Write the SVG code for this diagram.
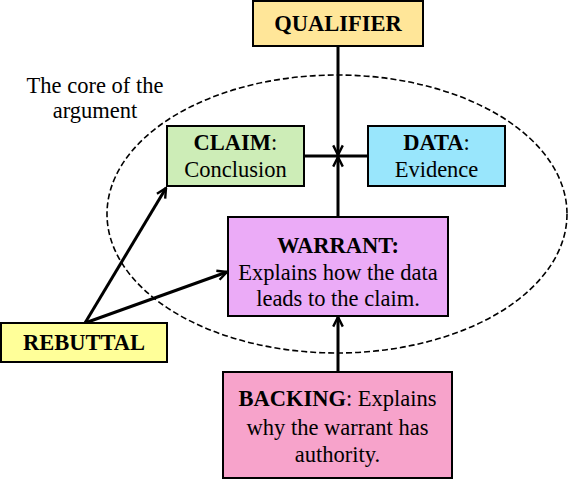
<svg xmlns="http://www.w3.org/2000/svg" width="570" height="480" viewBox="0 0 570 480">
<defs>
<style>
.box{stroke:#000;stroke-width:2}
.t{font-family:"Liberation Serif","Times New Roman",serif;font-size:22.5px;fill:#000;text-anchor:middle}
.b{font-weight:bold}
.c{fill:none;stroke:#000;stroke-width:3}
</style>
<marker id="ah" viewBox="0 0 10 10" refX="9" refY="5" markerWidth="4" markerHeight="4" orient="auto" markerUnits="strokeWidth">
<path d="M1,1 L9,5 L1,9" fill="none" stroke="#000" stroke-width="2"/>
</marker>
</defs>
<rect width="570" height="480" fill="#fff"/>
<ellipse cx="337" cy="214" rx="230" ry="139" fill="none" stroke="#000" stroke-width="1.6" stroke-dasharray="6,3"/>
<text class="t" x="95" y="93">The core of the</text>
<text class="t" x="95" y="118">argument</text>
<g id="connectors">
<line class="c" x1="304" y1="156" x2="368" y2="156" stroke-width="2.5"/>
<line class="c" x1="338" y1="46" x2="338" y2="155" marker-end="url(#ah)"/>
<line class="c" x1="338" y1="217" x2="338" y2="157" marker-end="url(#ah)"/>
<line class="c" x1="338" y1="372" x2="338" y2="317" marker-end="url(#ah)"/>
<line class="c" x1="85" y1="323" x2="166" y2="188" marker-end="url(#ah)"/>
<line class="c" x1="85" y1="323" x2="227" y2="272" marker-end="url(#ah)"/>
</g>
<g id="qualifier">
<rect class="box" x="253" y="1" width="170" height="45" fill="#FFE699"/>
<text class="t b" x="338" y="31">QUALIFIER</text>
</g>
<g id="claim">
<rect class="box" x="167" y="126" width="137" height="60" fill="#CDEDB7"/>
<text class="t" x="235.5" y="150"><tspan class="b">CLAIM</tspan>:</text>
<text class="t" x="235.5" y="177">Conclusion</text>
</g>
<g id="data">
<rect class="box" x="368" y="126" width="137" height="60" fill="#99E6FC"/>
<text class="t" x="436.5" y="150"><tspan class="b">DATA</tspan>:</text>
<text class="t" x="436.5" y="177">Evidence</text>
</g>
<g id="warrant">
<rect class="box" x="228" y="217" width="220" height="99" fill="#EBABF7"/>
<text class="t b" x="338" y="253">WARRANT:</text>
<text class="t" x="338" y="280">Explains how the data</text>
<text class="t" x="338" y="306">leads to the claim.</text>
</g>
<g id="backing">
<rect class="box" x="223" y="372" width="229" height="106" fill="#F7A3CB"/>
<text class="t" x="337.5" y="406"><tspan class="b">BACKING</tspan>: Explains</text>
<text class="t" x="337.5" y="435">why the warrant has</text>
<text class="t" x="337.5" y="462">authority.</text>
</g>
<g id="rebuttal">
<rect class="box" x="1" y="323" width="166" height="39" fill="#FFFF99"/>
<text class="t b" x="84" y="350">REBUTTAL</text>
</g>
</svg>
